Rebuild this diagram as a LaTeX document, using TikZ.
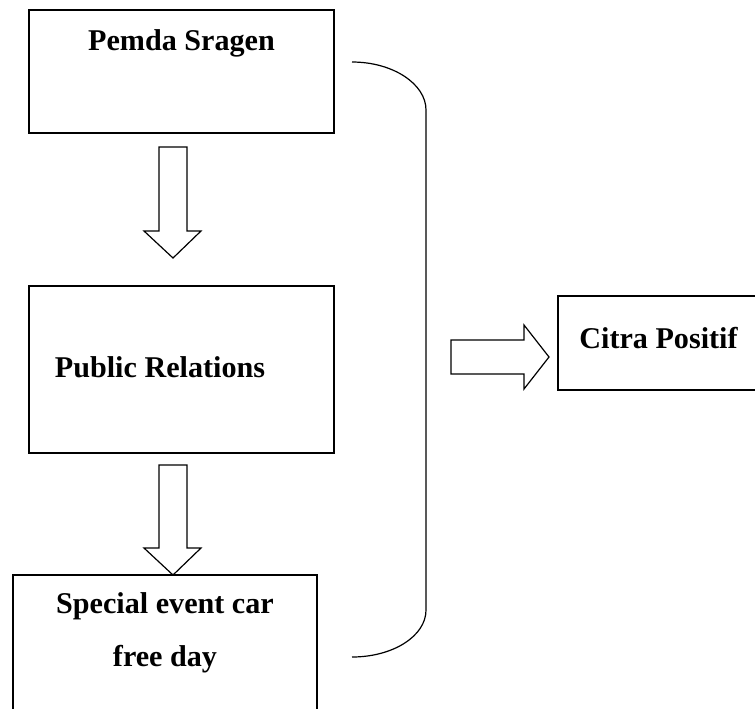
\documentclass[tikz,border=0pt]{standalone}
\usepackage{fontspec}
\setmainfont{Liberation Serif}
\usetikzlibrary{fit}
\begin{document}
\begin{tikzpicture}[x=0.75pt,y=-0.75pt,
  box/.style={draw, line width=1.1pt, rectangle, inner sep=0pt},
  blockarrow/.style={draw, line width=0.9pt, line join=miter},
  brace/.style={draw, line width=0.9pt},
  lbl/.style={font=\fontsize{22.6}{27}\selectfont\bfseries, inner sep=0pt, anchor=base}]
\useasboundingbox (0,0) rectangle (755,708);
\clip (0,0) rectangle (755,708);
% box corners
\coordinate (b1nw) at (29,10);  \coordinate (b1se) at (334,133);
\coordinate (b2nw) at (29,286); \coordinate (b2se) at (334,453);
\coordinate (b3nw) at (13,575); \coordinate (b3se) at (317,740);
\coordinate (b4nw) at (558,296); \coordinate (b4se) at (780,390);
\node[box, fit=(b1nw)(b1se)] (pemda) {};
\node[box, fit=(b2nw)(b2se)] (pr) {};
\node[box, fit=(b3nw)(b3se)] (event) {};
\node[box, fit=(b4nw)(b4se)] (citra) {};
% labels
\node[lbl] (tpemda) at (181.5,50) {Pemda Sragen};
\node[lbl] (tpr) at (160,377) {Public Relations};
\node[lbl] (tev1) at (165,613) {Special event car};
\node[lbl] (tev2) at (165,666) {free day};
\node[lbl] (tcitra) at (658.5,348) {Citra Positif};
% block arrows
\path[blockarrow] (159,147) -- (187,147) -- (187,231) -- (201,231) -- (173,258) -- (144,231) -- (159,231) -- cycle;
\path[blockarrow] (159,465) -- (187,465) -- (187,548) -- (201,548) -- (173,575) -- (144,548) -- (159,548) -- cycle;
\path[blockarrow] (451,340) -- (524,340) -- (524,325) -- (549,357) -- (524,389) -- (524,374) -- (451,374) -- cycle;
% bracket
\coordinate (brtop) at (352,62);
\coordinate (brbot) at (352,657);
\path[brace] (brtop) .. controls (393,62) and (426,84) .. (426,110)
  -- (426,610) .. controls (426,636) and (393,657) .. (brbot);
\end{tikzpicture}
\end{document}
